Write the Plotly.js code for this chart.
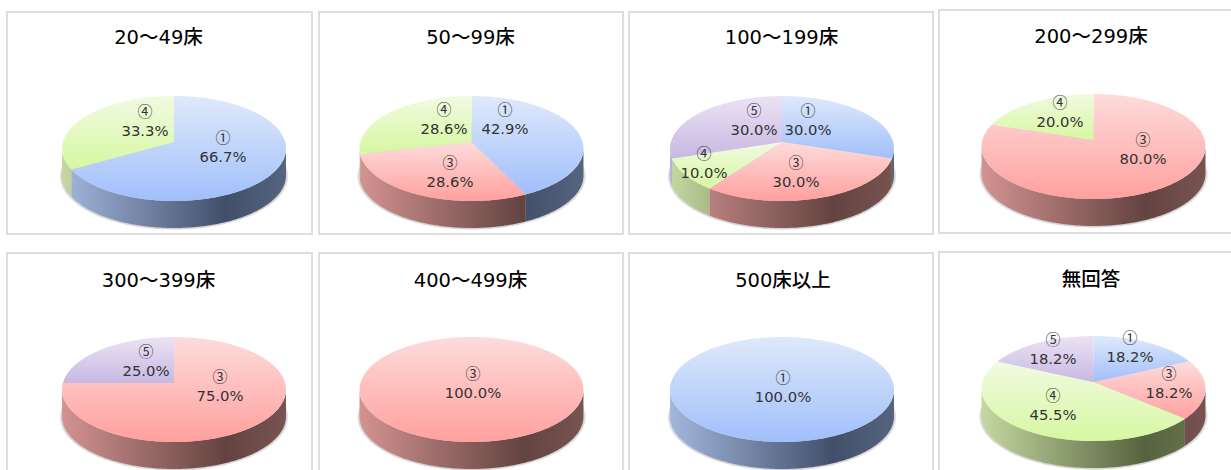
<!DOCTYPE html>
<html><head><meta charset="utf-8">
<script src="https://cdn.plot.ly/plotly-3.0.1.min.js"></script>
<style>html,body{margin:0;padding:0;background:#fff;overflow:hidden}</style>
</head><body><div id="chart" style="width:1231px;height:470px"></div>
<script>
// ---- data ----
const titles = ["20～49床","50～99床","100～199床","200～299床","300～399床","400～499床","500床以上","無回答"];
const cats1 = ["①","④"];           const vals1 = [66.7,33.3];
const cats2 = ["①","③","④"];       const vals2 = [42.9,28.6,28.6];
const cats3 = ["①","③","④","⑤"];   const vals3 = [30.0,30.0,10.0,30.0];
const cats4 = ["③","④"];           const vals4 = [80.0,20.0];
const cats5 = ["③","⑤"];           const vals5 = [75.0,25.0];
const cats6 = ["③"];               const vals6 = [100.0];
const cats7 = ["①"];               const vals7 = [100.0];
const cats8 = ["①","③","④","⑤"];   const vals8 = [18.2,18.2,45.5,18.2];
const allCats = [cats1,cats2,cats3,cats4,cats5,cats6,cats7,cats8];
const allVals = [vals1,vals2,vals3,vals4,vals5,vals6,vals7,vals8];

// ---- layout: panels, pie placement, label placement (px) ----
const panelBoxes = [[7,12,312,234],[319,12,623,234],[629,12,933,234],[939,10,1240,233],
                    [7,253,312,480],[319,253,623,480],[629,253,933,480],[939,252,1240,480]];
const titlePos = [[158.5,39],[470.5,39],[781.5,39],[1091,38],[158.5,282],[470.5,282],[783,282],[1091,281]];
const pieX = [174,471.5,782,1093.5,174,471.5,782,1093.5];
const pieTop = [96,96,96,94,337,337,337,336];
const labelPos = [
 [[223,149],[145,123]],
 [[505,121],[450,174],[444,121]],
 [[808,122],[796,174],[704,165],[754,122]],
 [[1143,151],[1060,114]],
 [[220,388],[146,363]],
 [[473,385]],
 [[783,389]],
 [[1130,349],[1169,385],[1053,407],[1053,351]]
];
const topColors = {"①":["#dfe9fb","#a0bffa"],"③":["#fddcdc","#ffa09e"],"④":["#f1fae2","#d6f8a0"],"⑤":["#ebe3f4","#c7b8e2"]};
const wallColors = {"①":["#a3b7dd","#414f6a","#55647f"],"③":["#d39391","#634340","#785451"],
                    "④":["#c4d8a0","#56633f","#69774f"],"⑤":["#bcaed6","#4f4660","#625872"]};
const latin = "'DejaVu Sans','Noto Sans CJK JP',sans-serif";
const cjk = "'Noto Sans CJK JP',sans-serif";

// perspective constants of the drawn disc
const K = 0.124, A = 111.1, B = 51.7, DEPTH = 27, APEX = 46;

function project(i, th, drop, grow) {
  const u = Math.sin(th), v = -Math.cos(th), w = 1 - K * v;
  const g = grow || 0;
  const sx = (A + g) / A, sy = (B + g * 0.5) / B;
  return [pieX[i] + A * sx * u / w, pieTop[i] + APEX + B * sy * v / w + (drop || 0)];
}
function arc(i, a0, a1, drop, grow) {
  const n = Math.max(2, Math.ceil(Math.abs(a1 - a0) / 0.02));
  const pts = [];
  for (let j = 0; j <= n; j++) pts.push(project(i, a0 + (a1 - a0) * j / n, drop, grow));
  return pts;
}
function polyTrace(pts, extra) {
  return Object.assign({type:"scatter", mode:"none", fill:"toself", hoverinfo:"skip", showlegend:false,
    x:pts.map(p=>p[0]), y:pts.map(p=>p[1])}, extra);
}

const traces = [];
const TWO = 2 * Math.PI, FRONT0 = Math.acos(-K), FRONT1 = TWO - FRONT0;

allVals.forEach((vals, i) => {
  const cats = allCats[i], total = vals.reduce((a,b)=>a+b,0);
  // soft shadow under the disc
  [2.2,1.2].forEach(g => {
    traces.push(polyTrace(arc(i, 0, TWO, DEPTH + 0.5, g), {fillcolor:"rgba(90,90,90,0.14)"}));
  });
  const xL = pieX[i] - 112, xR = pieX[i] + 112;
  let a = 0; const spans = [];
  vals.forEach(v => { const b = a + v / total * TWO; spans.push([a, b]); a = b; });
  // side walls
  spans.forEach((s, k) => {
    const lo = Math.max(s[0], FRONT0), hi = Math.min(s[1], FRONT1);
    if (hi <= lo) return;
    const pts = arc(i, lo, hi, 0).concat(arc(i, hi, lo, DEPTH));
    const c = wallColors[cats[k]];
    traces.push(polyTrace(pts, {fillgradient:{type:"horizontal", start:xR, stop:xL,
      colorscale:[[0,c[2]],[0.27,c[1]],[1,c[0]]]}}));
  });
  // top faces
  spans.forEach((s, k) => {
    const pts = arc(i, s[0], s[1], 0);
    if (vals.length > 1) pts.push([pieX[i], pieTop[i] + APEX]);
    const ys = pts.map(p=>p[1]);
    const c = topColors[cats[k]];
    traces.push(polyTrace(pts, {fillgradient:{type:"vertical", start:Math.min(...ys), stop:Math.max(...ys),
      colorscale:[[0,c[0]],[1,c[1]]]}}));
  });
  // labels
  traces.push({type:"scatter", mode:"text", hoverinfo:"skip", showlegend:false,
    x:labelPos[i].map(p=>p[0]), y:labelPos[i].map(p=>p[1]),
    text:cats.map((c,k)=>'<span style="font-family:'+cjk.replace(/'/g,"")+';font-size:15px">'+c+"</span><br>"+vals[k].toFixed(1)+"%"),
    textposition:"middle center",
    textfont:{family:latin, size:14.8, color:"#333"}});
});
// panel titles
traces.push({type:"scatter", mode:"text", hoverinfo:"skip", showlegend:false,
  x:titlePos.map(p=>p[0]), y:titlePos.map(p=>p[1]), text:titles, textposition:"middle center",
  textfont:{family:latin, size:19.5, color:"#000", weight:500}});

const shapes = panelBoxes.map(b => ({type:"rect", xref:"x", yref:"y", x0:b[0], y0:b[1], x1:b[2], y1:b[3],
  line:{color:"#dedede", width:2}, fillcolor:"#fff", layer:"below"}));

const hidden = {visible:false, fixedrange:true};
Plotly.newPlot("chart", traces, {
  width:1231, height:470, margin:{l:0,r:0,t:0,b:0}, paper_bgcolor:"#fff", plot_bgcolor:"#fff",
  xaxis:Object.assign({range:[0,1231]}, hidden), yaxis:Object.assign({range:[470,0]}, hidden),
  shapes, showlegend:false
}, {staticPlot:true, displayModeBar:false});
</script></body></html>
